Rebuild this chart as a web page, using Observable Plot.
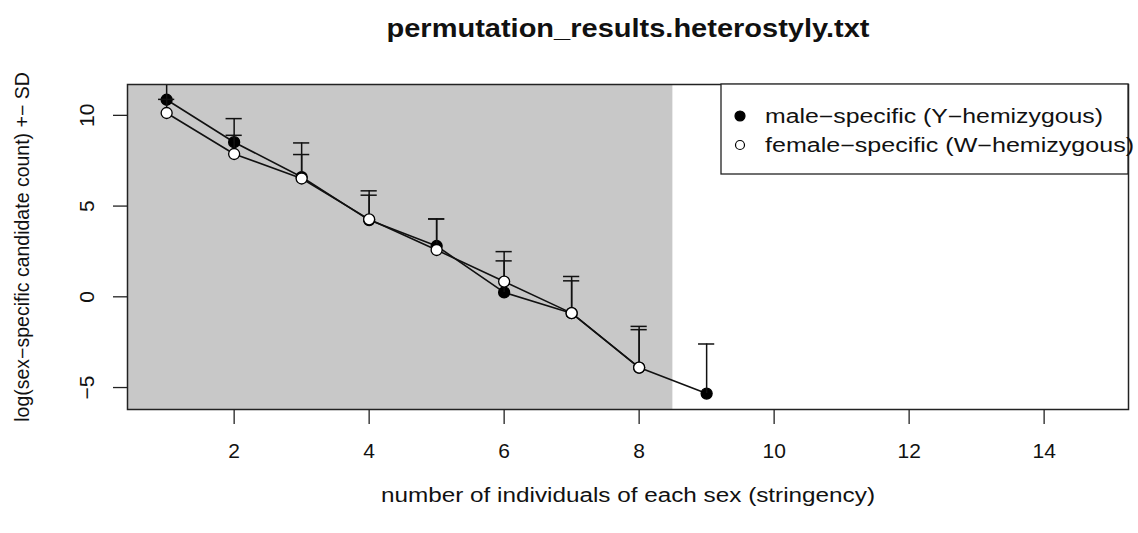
<!DOCTYPE html>
<html>
<head>
<meta charset="utf-8">
<script src="https://cdn.jsdelivr.net/npm/d3@7"></script>
<script src="https://cdn.jsdelivr.net/npm/@observablehq/plot@0.6"></script>
<style>
  html, body { margin: 0; padding: 0; background: #fff; }
  #chart svg { display: block; }
</style>
</head>
<body>
<div id="chart"></div>
<script>
// ---- data ----
const stringency = [1, 2, 3, 4, 5, 6, 7, 8, 9];
const maleMean   = [10.86, 8.52, 6.60, 4.23, 2.80, 0.24, -0.90, -3.90, -5.33];
const maleSD     = [1.80, 1.30, 1.88, 1.61, 1.49, 2.25, 2.02, 2.27, 2.73];
const femaleMean = [10.13, 7.87, 6.52, 4.27, 2.58, 0.84, -0.90, -3.90];
const femaleSD   = [0.75, 1.03, 1.32, 1.33, 1.71, 1.14, 1.78, 2.09];
const xTicks = [2, 4, 6, 8, 10, 12, 14];
const yTicks = [-5, 0, 5, 10];
const xDomain = [0.42, 15.25];
const yDomain = [-6.21, 11.70];
const shadeEnd = 8.5;
const titleText = "permutation_results.heterostyly.txt";
const xLabel = "number of individuals of each sex (stringency)";
const yLabel = "log(sex\u2212specific candidate count) +\u2212 SD";
const legendLabels = ["male\u2212specific (Y\u2212hemizygous)", "female\u2212specific (W\u2212hemizygous)"];

const male = stringency.map((x, i) => ({x, y: maleMean[i], sd: maleSD[i]}));
const female = femaleMean.map((y, i) => ({x: stringency[i], y, sd: femaleSD[i]}));
const capHalf = 0.12;
const font = "Liberation Sans, Arial, Helvetica, sans-serif";

function bars(data) {
  return [
    Plot.ruleX(data, {x: "x", y1: "y", y2: d => d.y + d.sd, stroke: "#111", strokeWidth: 1.5, clip: true}),
    Plot.ruleY(data, {y: d => d.y + d.sd, x1: d => d.x - capHalf, x2: d => d.x + capHalf, stroke: "#111", strokeWidth: 1.5, clip: true})
  ];
}

function legend(index, scales, values, dims) {
  const g = d3.create("svg:g").attr("font-family", font);
  const right = dims.width - dims.marginRight;
  const top = dims.marginTop;
  const left = right - 407;
  g.append("rect").attr("x", left).attr("y", top).attr("width", right - left).attr("height", 90)
    .attr("fill", "white").attr("stroke", "#222").attr("stroke-width", 1.3);
  legendLabels.forEach((t, i) => {
    const cy = top + 32 + i * 29;
    g.append("circle").attr("cx", left + 19).attr("cy", cy).attr("r", i === 0 ? 5 : 4.5)
      .attr("fill", i === 0 ? "black" : "white").attr("stroke", "black").attr("stroke-width", 1.2);
    g.append("text").attr("class", "stretch").attr("data-w", i === 0 ? 338 : 369)
      .attr("x", left + 44).attr("y", cy).attr("dy", "0.35em")
      .attr("text-anchor", "start").attr("font-size", 19.5).attr("fill", "#111").text(t);
  });
  return g.node();
}

const chart = Plot.plot({
  width: 1138,
  height: 533,
  marginLeft: 127,
  marginRight: 10,
  marginTop: 84,
  marginBottom: 124,
  style: {fontFamily: font, background: "white"},
  x: {domain: xDomain, axis: null},
  y: {domain: yDomain, axis: null},
  marks: [
    Plot.rect([0], {x1: () => xDomain[0], x2: () => shadeEnd, y1: () => yDomain[0], y2: () => yDomain[1], fill: "#c8c8c8"}),
    Plot.axisX({ticks: xTicks, tickSize: 15, tickPadding: 19, fontSize: 21, tickFormat: d => String(d), stroke: "#222", strokeWidth: 1.3, color: "#111", label: null}),
    Plot.axisY({ticks: yTicks, tickSize: 14, tickFormat: () => "", stroke: "#222", strokeWidth: 1.3, label: null}),
    Plot.text(yTicks, {y: d => d, text: d => String(d).replace("-", "\u2212"), frameAnchor: "left", dx: -40, rotate: -90, textAnchor: "middle", lineAnchor: "middle", fontSize: 21, fill: "#111"}),
    // series
    Plot.line(male, {x: "x", y: "y", stroke: "#111", strokeWidth: 1.6}),
    Plot.dot(male, {x: "x", y: "y", r: 5.5, fill: "black", stroke: "black", strokeWidth: 1.3}),
    ...bars(male),
    Plot.line(female, {x: "x", y: "y", stroke: "#111", strokeWidth: 1.6}),
    ...bars(female),
    Plot.dot(female, {x: "x", y: "y", r: 5.5, fill: "white", stroke: "black", strokeWidth: 1.3}),
    Plot.frame({stroke: "#222", strokeWidth: 1.5}),
    legend,
    // titles
    Plot.text([titleText], {frameAnchor: "top", dy: -56, text: d => d, fontSize: 25, fontWeight: "bold", fill: "#111", lineAnchor: "middle"}),
    Plot.text([xLabel], {frameAnchor: "bottom", dy: 86, text: d => d, fontSize: 20, fill: "#111", lineAnchor: "middle"}),
    Plot.text([yLabel], {frameAnchor: "left", dx: -105, rotate: -90, text: d => d, fontSize: 19.5, fill: "#111", textAnchor: "middle", lineAnchor: "middle"})
  ]
});
document.getElementById("chart").appendChild(chart);

// the reference image is horizontally stretched: widen horizontal texts to its measured widths
const targetWidths = new Map([[titleText, 483], [xLabel, 494]]);
d3.select(chart).selectAll("text").each(function() {
  const t = this.textContent;
  let w = targetWidths.get(t);
  if (w == null && this.classList.contains("stretch")) w = +this.getAttribute("data-w");
  if (w != null) {
    this.setAttribute("textLength", w);
    this.setAttribute("lengthAdjust", "spacingAndGlyphs");
  }
});
</script>
</body>
</html>
